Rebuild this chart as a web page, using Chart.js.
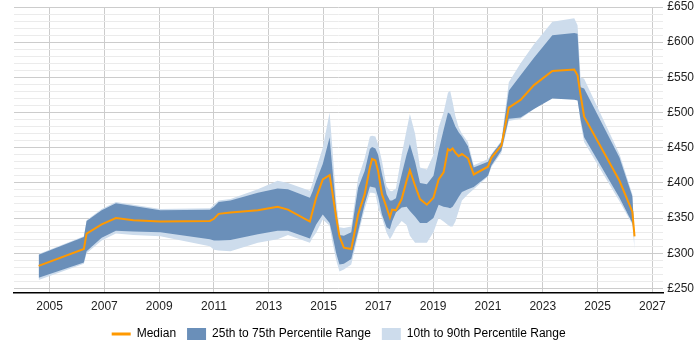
<!DOCTYPE html>
<html>
<head>
<script src="https://cdn.jsdelivr.net/npm/chart.js@4.4.0/dist/chart.umd.min.js"></script>
<style>
  body { margin: 0; background: #fff; }
  #wrap { width: 700px; height: 350px; }
</style>
</head>
<body>
<div id="wrap"><canvas id="rateChart"></canvas></div>
<script>
// years (decimal) shared by all series
var years = [2004.6, 2006.25, 2006.35, 2006.9, 2007.42, 2008.06, 2009.04, 2010.85, 2011.0, 2011.17,
  2011.6, 2012.6, 2013.32, 2013.7, 2014.5, 2014.6, 2014.73, 2014.97, 2015.22, 2015.31,
  2015.46, 2015.58, 2015.74, 2016.01, 2016.26, 2016.5, 2016.69, 2016.77, 2016.89, 2016.99,
  2017.13, 2017.3, 2017.42, 2017.5, 2017.64, 2017.85, 2018.03, 2018.15, 2018.34, 2018.52,
  2018.77, 2019.01, 2019.2, 2019.38, 2019.54, 2019.62, 2019.71, 2019.81, 2019.93, 2020.05,
  2020.27, 2020.48, 2021.0, 2021.13, 2021.49, 2021.76, 2022.19, 2022.68, 2023.35, 2024.15,
  2024.27, 2024.38, 2024.51, 2025.8, 2026.27, 2026.35];

var median = [282, 306, 328, 341, 350, 347, 345, 346, 349, 356,
  358, 361, 366, 362, 345, 360, 379, 405, 411, 389,
  351, 324, 308, 306, 355, 384, 422, 434, 432, 417,
  384, 365, 351, 362, 361, 377, 403, 418, 396, 377,
  369, 379, 405, 415, 448, 446, 449, 443, 438, 441,
  435, 412, 423, 436, 453, 507, 518, 539, 559, 561,
  553, 525, 494, 403, 359, 324];

var p75 = [298, 323, 346, 361, 371, 367, 361, 362, 366, 373,
  375, 386, 392, 391, 379, 388, 403, 427, 465, 425,
  362, 326, 325, 330, 393, 417, 448, 451, 449, 440,
  413, 384, 375, 375, 378, 412, 440, 455, 430, 400,
  398, 410, 446, 475, 500, 498, 490, 480, 472, 466,
  452, 422, 430, 440, 458, 531, 553, 578, 610, 613,
  612, 536, 534, 436, 381, 325];

var p25 = [265, 287, 303, 322, 332, 331, 330, 320, 318, 318,
  319, 327, 332, 332, 321, 330, 341, 355, 343, 328,
  300, 284, 285, 292, 331, 370, 395, 394, 393, 380,
  355, 337, 334, 345, 358, 365, 366, 360, 352, 343,
  343, 350, 369, 366, 365, 364, 366, 372, 380, 387,
  391, 394, 410, 425, 446, 491, 493, 505, 520, 518,
  517, 490, 465, 379, 343, 324];

var p90 = [299, 324, 347, 363, 373, 369, 363, 364, 369, 375,
  377, 391, 403, 400, 389, 400, 420, 450, 500, 455,
  375, 337, 336, 338, 407, 435, 466, 467, 466, 455,
  431, 395, 389, 388, 392, 440, 475, 498, 470, 422,
  419, 440, 479, 500, 528, 531, 515, 495, 479, 470,
  458, 425, 434, 441, 460, 543, 570, 597, 629, 634,
  624, 550, 548, 441, 384, 325];

var p10 = [262, 285, 300, 318, 328, 326, 324, 310, 305, 304,
  303, 315, 320, 326, 315, 322, 329, 348, 339, 318,
  290, 274, 277, 284, 326, 363, 386, 386, 385, 365,
  350, 329, 320, 325, 336, 346, 340, 325, 315, 315,
  315, 330, 350, 345, 340, 338, 338, 345, 360, 375,
  384, 391, 409, 423, 443, 488, 491, 505, 524, 522,
  521, 485, 458, 374, 341, 305];

var yearTicks = [2005, 2007, 2009, 2011, 2013, 2015, 2017, 2019, 2021, 2023, 2025, 2027];
var legendLabels = ['Median', '25th to 75th Percentile Range', '10th to 90th Percentile Range'];

var darkBlue = '#6a8fb9';
var lightBlue = '#cddcec';
var orange = '#ff9900';
var fontFamily = 'Liberation Sans, Arial, sans-serif';

function pts(vals) {
  var out = [];
  for (var i = 0; i < years.length; i++) out.push({x: years[i], y: vals[i]});
  return out;
}

var ctx = document.getElementById('rateChart').getContext('2d');
var chart = new Chart(ctx, {
  type: 'line',
  data: {
    datasets: [
      { label: legendLabels[0], data: pts(median), borderColor: orange, borderWidth: 2, pointRadius: 0, fill: false },
      { label: 'p75', data: pts(p75), borderWidth: 0, borderColor: darkBlue, backgroundColor: darkBlue, pointRadius: 0, fill: '+1' },
      { label: 'p25', data: pts(p25), borderWidth: 0, borderColor: darkBlue, pointRadius: 0, fill: false },
      { label: 'p90', data: pts(p90), borderWidth: 0, borderColor: lightBlue, backgroundColor: lightBlue, pointRadius: 0, fill: '+1' },
      { label: 'p10', data: pts(p10), borderWidth: 0, borderColor: lightBlue, pointRadius: 0, fill: false }
    ]
  },
  options: {
    responsive: true,
    maintainAspectRatio: false,
    animation: false,
    layout: { padding: { left: 14, right: 2, top: 0, bottom: 0 } },
    plugins: {
      tooltip: { enabled: false },
      legend: {
        position: 'bottom',
        fullSize: false,
        labels: {
          usePointStyle: true,
          pointStyleWidth: 19,
          padding: 11,
          color: '#222',
          font: { family: fontFamily, size: 12 },
          generateLabels: function () {
            return [
              { text: legendLabels[0], pointStyle: 'line', strokeStyle: orange, fillStyle: orange, lineWidth: 3, hidden: false, datasetIndex: 0 },
              { text: legendLabels[1], pointStyle: 'rect', strokeStyle: darkBlue, fillStyle: darkBlue, lineWidth: 0, hidden: false, datasetIndex: 1 },
              { text: legendLabels[2], pointStyle: 'rect', strokeStyle: lightBlue, fillStyle: lightBlue, lineWidth: 0, hidden: false, datasetIndex: 3 }
            ];
          }
        }
      }
    },
    scales: {
      x: {
        type: 'linear',
        min: 2003.7,
        max: 2027.4,
        afterBuildTicks: function (axis) {
          axis.ticks = yearTicks.map(function (v) { return {value: v}; });
        },
        afterFit: function (axis) { axis.height = 24; },
        ticks: {
          color: '#222',
          font: { family: fontFamily, size: 12 },
          maxRotation: 0,
          autoSkip: false,
          padding: 6,
          callback: function (v) { return String(v); }
        },
        grid: { color: '#cccccc', drawTicks: false },
        border: { color: '#000', width: 1.5 }
      },
      y: {
        position: 'right',
        min: 243.5,
        max: 650,
        afterBuildTicks: function (axis) {
          var t = [];
          for (var v = 250; v <= 650; v += 10) t.push({value: v});
          axis.ticks = t;
        },
        afterFit: function (axis) { axis.paddingTop = 7; },
        ticks: {
          color: '#222',
          font: { family: fontFamily, size: 12 },
          autoSkip: false,
          padding: 4,
          callback: function (v) { return v % 50 === 0 ? '£' + v : ''; }
        },
        grid: {
          drawTicks: false,
          color: function (c) { return c.tick && c.tick.value % 50 === 0 ? '#cccccc' : '#ebebeb'; }
        },
        border: { display: false }
      }
    }
  }
});
</script>
</body>
</html>
